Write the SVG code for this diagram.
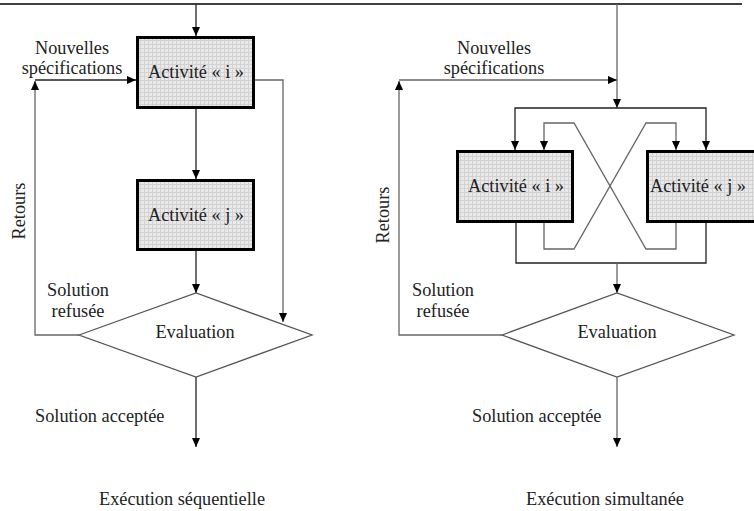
<svg xmlns="http://www.w3.org/2000/svg" width="754" height="511" viewBox="0 0 754 511" font-family="'Liberation Serif', 'DejaVu Serif', serif">
<defs>
<pattern id="grid" width="4" height="4" patternUnits="userSpaceOnUse">
<rect width="4" height="4" fill="#e9e9e9"/>
<path d="M0,0.5 H4 M0.5,0 V4" stroke="#d2d2d2" stroke-width="1"/>
</pattern>
<marker id="ah" markerWidth="10" markerHeight="10" refX="9" refY="5" orient="auto" markerUnits="userSpaceOnUse">
<path d="M0,1 L9,5 L0,9 Z" fill="#000"/>
</marker>
</defs>
<style>
.box{fill:url(#grid);stroke:#000;stroke-width:3}
.dia{fill:#fff;stroke:#555;stroke-width:1.3}
.c{fill:none;stroke:#222;stroke-width:1.3}
.g{fill:none;stroke:#666;stroke-width:1.3}
.a{marker-end:url(#ah)}
text{font-family:'Liberation Serif','DejaVu Serif',serif;font-size:18.3px;fill:#222}
.m{text-anchor:middle}
</style>
<rect width="754" height="511" fill="#fff"/>
<line x1="0" y1="4" x2="742" y2="4" stroke="#000" stroke-width="1.5"/>

<g id="connectors">
<path class="c a" d="M196,4 V36"/>
<path class="c a" d="M35,80 H136"/>
<path class="g a" d="M79,335 H35 V81"/>
<path class="c a" d="M196,109 V179"/>
<path class="c a" d="M196,251 V293"/>
<path class="g a" d="M255,80 H283 V322"/>
<path class="c a" d="M196,377 V447"/>
<path class="g a" d="M617,4 V108"/>
<path class="g a" d="M399,80 H617"/>
<path class="g a" d="M502,335 H399 V81"/>
<path class="c a" d="M617,108 H515 V150"/>
<path class="c a" d="M617,108 H706 V150"/>
<path class="g a" d="M676,223 V249 H646 L574,123 H544 V150"/>
<path class="g a" d="M544,223 V249 H574 L646,123 H676 V150"/>
<path class="c" d="M516,223 V263 H706 V223"/>
<path class="g a" d="M617,263 V293"/>
<path class="g a" d="M617,377 V447"/>
</g>

<g id="seq-activite-i">
<rect class="box" x="137.5" y="37.5" width="116" height="70"/>
<text class="m" x="196" y="78">Activité « i »</text>
</g>
<g id="seq-activite-j">
<rect class="box" x="137.5" y="180.5" width="116" height="69"/>
<text class="m" x="196" y="221">Activité « j »</text>
</g>
<g id="seq-evaluation">
<polygon class="dia" points="79,335 196,293 312,335 196,377"/>
<text class="m" x="195" y="338">Evaluation</text>
</g>
<g id="seq-labels">
<text class="m" x="72" y="54">Nouvelles</text>
<text class="m" x="72" y="74">spécifications</text>
<text class="m" transform="translate(25,211) rotate(-90)">Retours</text>
<text class="m" x="78" y="296">Solution</text>
<text class="m" x="78" y="317">refusée</text>
<text x="35" y="422">Solution acceptée</text>
<text class="m" x="182" y="505">Exécution séquentielle</text>
</g>

<g id="sim-activite-i">
<rect class="box" x="457.5" y="151.5" width="115" height="70"/>
<text class="m" x="516" y="192">Activité « i »</text>
</g>
<g id="sim-activite-j">
<rect class="box" x="647.5" y="151.5" width="115" height="70"/>
<text class="m" x="698" y="192">Activité « j »</text>
</g>
<g id="sim-evaluation">
<polygon class="dia" points="502,335 617,293 734,335 617,377"/>
<text class="m" x="617" y="338">Evaluation</text>
</g>
<g id="sim-labels">
<text class="m" x="494" y="54">Nouvelles</text>
<text class="m" x="494" y="74">spécifications</text>
<text class="m" transform="translate(389,215) rotate(-90)">Retours</text>
<text class="m" x="443" y="296">Solution</text>
<text class="m" x="443" y="317">refusée</text>
<text x="472" y="422">Solution acceptée</text>
<text class="m" x="605" y="505">Exécution simultanée</text>
</g>
</svg>
